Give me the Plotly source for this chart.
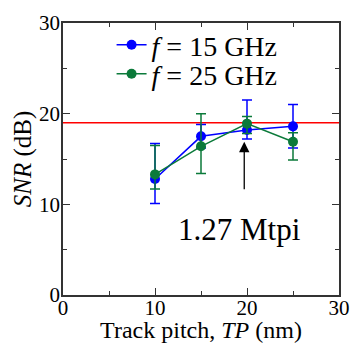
import plotly.graph_objects as go

track_pitch = [10, 15, 20, 25]
snr_15 = [12.8, 17.5, 18.2, 18.6]
err15_plus = [3.9, 1.3, 3.3, 2.4]
err15_minus = [2.7, 1.3, 1.0, 2.4]
snr_25 = [13.3, 16.4, 18.9, 16.9]
err25_plus = [3.2, 3.6, 0.8, 1.0]
err25_minus = [1.6, 3.0, 1.1, 2.0]
ref_snr = 19.0
arrow_x = 19.7
arrow_from = 11.5
arrow_to = 16.9
label_text = "1.27 Mtpi"
label_pos = (19.2, 7.2)

BLUE = "#0000ff"
GREEN = "#0b7a3a"
FONT = "Liberation Serif, Times New Roman, serif"

fig = go.Figure()
fig.add_trace(go.Scatter(
    x=track_pitch, y=snr_15, mode="lines+markers", name="<i>f</i> = 15 GHz",
    line=dict(color=BLUE, width=1.5), marker=dict(color=BLUE, size=10),
    error_y=dict(type="data", symmetric=False, array=err15_plus, arrayminus=err15_minus,
                 color=BLUE, thickness=1.5, width=5),
    legend="legend", showlegend=True,
))
fig.add_trace(go.Scatter(
    x=track_pitch, y=snr_25, mode="lines+markers", name="<i>f</i> = 25 GHz",
    line=dict(color=GREEN, width=1.5), marker=dict(color=GREEN, size=10),
    error_y=dict(type="data", symmetric=False, array=err25_plus, arrayminus=err25_minus,
                 color=GREEN, thickness=1.5, width=5),
    legend="legend2", showlegend=True,
))

fig.add_shape(type="line", xref="paper", yref="y", x0=0, x1=1, y0=ref_snr, y1=ref_snr,
              line=dict(color="red", width=1.5), layer="below")

fig.add_annotation(x=arrow_x, y=arrow_to, ax=arrow_x, ay=arrow_from, xref="x", yref="y",
                   axref="x", ayref="y", showarrow=True, arrowhead=2, arrowsize=1.6,
                   arrowwidth=1.3, arrowcolor="black", text="")
fig.add_annotation(x=label_pos[0], y=label_pos[1], xref="x", yref="y", text=label_text,
                   showarrow=False, font=dict(family=FONT, size=31, color="black"))

axis_common = dict(
    showline=True, linecolor="#333333", linewidth=1.5, mirror="allticks",
    ticks="inside", ticklen=7, tickwidth=1.2, tickcolor="#333333",
    showgrid=False, zeroline=False, automargin=False,
    tickfont=dict(family=FONT, size=21, color="black"),
    minor=dict(ticks="inside", ticklen=4, tickwidth=1.2, tickcolor="#333333", dtick=5),
)
fig.update_xaxes(range=[0, 30], dtick=10, tick0=0, ticklabelstandoff=-7,
                 title=dict(text="Track pitch, <i>TP</i> (nm)", font=dict(family=FONT, size=24, color="black"), standoff=9),
                 **axis_common)
fig.update_yaxes(range=[0, 30], dtick=10, tick0=0, ticklabelstandoff=-3,
                 title=dict(text="<i>SNR</i> (dB)", font=dict(family=FONT, size=25, color="black"), standoff=0),
                 **axis_common)

leg_common = dict(x=0.176, xanchor="left", yanchor="middle",
                  font=dict(family=FONT, size=28, color="black"),
                  bgcolor="rgba(0,0,0,0)", itemwidth=30, visible=True)
fig.update_layout(
    width=351, height=343,
    margin=dict(l=63, r=12, t=23, b=48),
    paper_bgcolor="white", plot_bgcolor="white",
    font=dict(family=FONT, color="black"),
    showlegend=True,
    legend=dict(y=0.919, **leg_common),
    legend2=dict(y=0.8125, **leg_common),
)

fig.write_html("out.html", config={"displayModeBar": False},
               post_script="document.body.style.margin='0';document.body.style.overflow='hidden';")
